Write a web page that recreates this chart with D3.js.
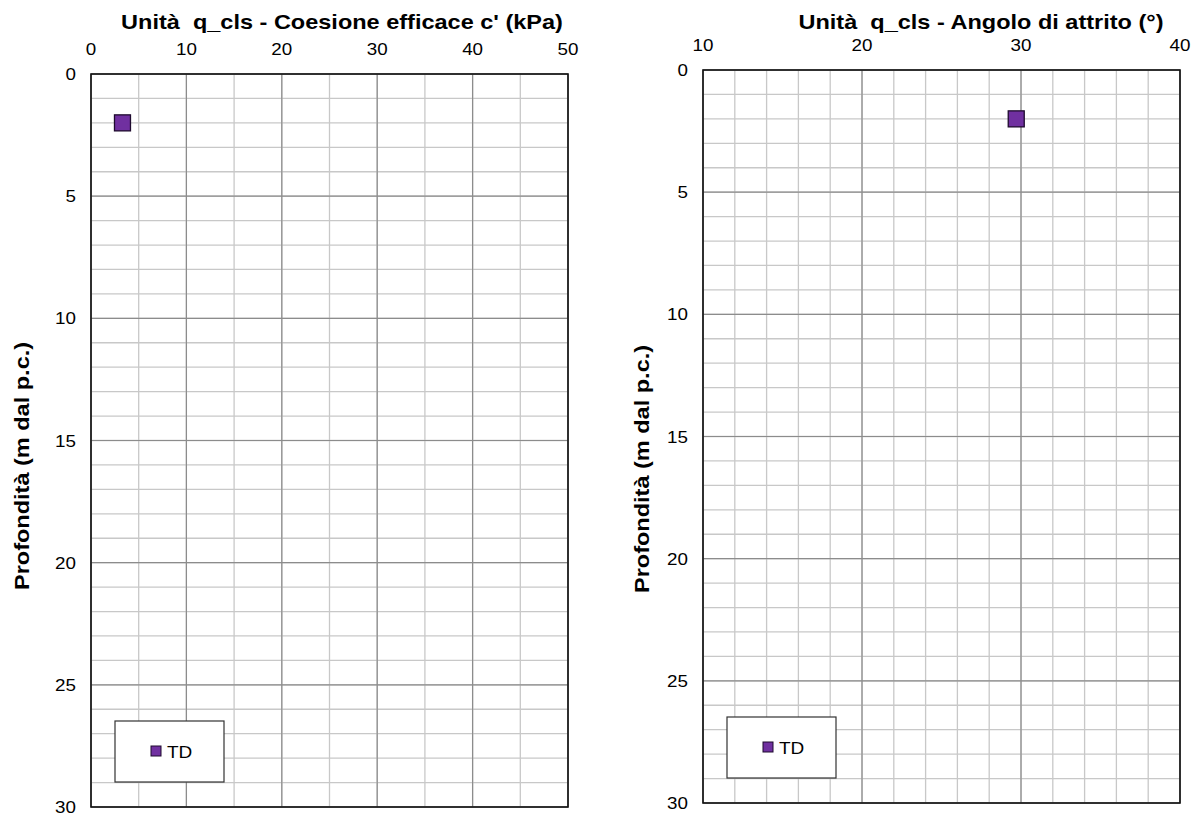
<!DOCTYPE html>
<html>
<head>
<meta charset="utf-8">
<script src="https://cdn.jsdelivr.net/npm/d3@7"></script>
<style>
  body { margin: 0; background: #fff; }
  svg text { font-family: "Liberation Sans", Arial, sans-serif; fill: #000; white-space: pre; }
</style>
</head>
<body>
<svg id="chart" width="1198" height="818"></svg>
<script>
// data
var seriesName = "TD";
var coesioneDepth = [2];
var coesioneValue = [3.3];
var attritoDepth = [2];
var attritoValue = [29.7];

var depthTicks = [0, 5, 10, 15, 20, 25, 30];
var coesioneTicks = [0, 10, 20, 30, 40, 50];
var attritoTicks = [10, 20, 30, 40];

// the original text is a bit wider than Arial, stretch it sideways
var STRETCH = 1.12;

var svg = d3.select("#chart");

function place(x, y, rot) {
  return "translate(" + x + "," + y + ")" + (rot ? " rotate(" + rot + ")" : "") + " scale(" + STRETCH + ",1)";
}

function drawPanel(opt) {
  var g = svg.append("g");
  var x = d3.scaleLinear().domain(opt.xDomain).range([opt.left, opt.right]);
  var y = d3.scaleLinear().domain([0, 30]).range([opt.top, opt.bottom]);

  // grid: minor lines first, major on top
  var minorX = d3.range(opt.xDomain[0], opt.xDomain[1] + 0.001, opt.xMinor);
  var minorY = d3.range(0, 30.001, 1);
  g.selectAll(".vminor").data(minorX).enter().append("line")
    .attr("x1", function(d) { return x(d); }).attr("x2", function(d) { return x(d); })
    .attr("y1", opt.top).attr("y2", opt.bottom)
    .attr("stroke", "#c8c8c8").attr("stroke-width", 1.3);
  g.selectAll(".hminor").data(minorY).enter().append("line")
    .attr("y1", function(d) { return y(d); }).attr("y2", function(d) { return y(d); })
    .attr("x1", opt.left).attr("x2", opt.right)
    .attr("stroke", "#c8c8c8").attr("stroke-width", 1.3);
  g.selectAll(".vmajor").data(opt.xTicks).enter().append("line")
    .attr("x1", function(d) { return x(d); }).attr("x2", function(d) { return x(d); })
    .attr("y1", opt.top).attr("y2", opt.bottom)
    .attr("stroke", "#8c8c8c").attr("stroke-width", 1.2);
  g.selectAll(".hmajor").data(depthTicks).enter().append("line")
    .attr("y1", function(d) { return y(d); }).attr("y2", function(d) { return y(d); })
    .attr("x1", opt.left).attr("x2", opt.right)
    .attr("stroke", "#8c8c8c").attr("stroke-width", 1.2);

  // frame
  g.append("rect")
    .attr("x", opt.left).attr("y", opt.top)
    .attr("width", opt.right - opt.left).attr("height", opt.bottom - opt.top)
    .attr("fill", "none").attr("stroke", "#111").attr("stroke-width", 1.6);

  // tick labels
  g.selectAll(".xl").data(opt.xTicks).enter().append("text")
    .attr("transform", function(d) { return place(x(d), opt.top - 19); })
    .attr("text-anchor", "middle")
    .attr("font-size", 16.8)
    .text(function(d) { return d; });
  g.selectAll(".yl").data(depthTicks).enter().append("text")
    .attr("transform", function(d) { return place(opt.left - 15, y(d) + 6); })
    .attr("text-anchor", "end")
    .attr("font-size", 16.8)
    .text(function(d) { return d; });

  // titles
  g.append("text")
    .attr("transform", place(opt.titleX, 28.5))
    .attr("text-anchor", "middle")
    .attr("font-size", 21).attr("font-weight", "bold")
    .text(opt.title);
  g.append("text")
    .attr("transform", place(opt.yTitleX, opt.yTitleY, -90))
    .attr("text-anchor", "middle")
    .attr("font-size", 21).attr("font-weight", "bold")
    .text("Profondità (m dal p.c.)");

  // points
  var pts = opt.depth.map(function(d, i) { return { depth: d, value: opt.values[i] }; });
  g.selectAll(".pt").data(pts).enter().append("rect")
    .attr("x", function(d) { return x(d.value) - 8; })
    .attr("y", function(d) { return y(d.depth) - 8; })
    .attr("width", 16).attr("height", 16)
    .attr("fill", "#7030a0").attr("stroke", "#1e0a2e").attr("stroke-width", 1.3);

  // legend
  var lg = g.append("g").attr("transform", "translate(" + (opt.left + 24) + "," + (opt.top + 647) + ")");
  lg.append("rect").attr("width", 109).attr("height", 61)
    .attr("fill", "#fff").attr("stroke", "#333").attr("stroke-width", 1.2);
  lg.append("rect").attr("x", 36).attr("y", 25).attr("width", 10).attr("height", 10)
    .attr("fill", "#7030a0").attr("stroke", "#1e0a2e").attr("stroke-width", 1);
  lg.append("text").attr("transform", place(52, 37))
    .attr("font-size", 17).text(seriesName);
}

drawPanel({
  left: 91, right: 568, top: 74, bottom: 807,
  xDomain: [0, 50], xMinor: 5, xTicks: coesioneTicks,
  title: "Unità  q_cls - Coesione efficace c' (kPa)", titleX: 342,
  yTitleX: 29, yTitleY: 466,
  depth: coesioneDepth, values: coesioneValue
});

drawPanel({
  left: 703, right: 1180, top: 70, bottom: 803,
  xDomain: [10, 40], xMinor: 2, xTicks: attritoTicks,
  title: "Unità  q_cls - Angolo di attrito (°)", titleX: 981,
  yTitleX: 649, yTitleY: 469,
  depth: attritoDepth, values: attritoValue
});
</script>
</body>
</html>
